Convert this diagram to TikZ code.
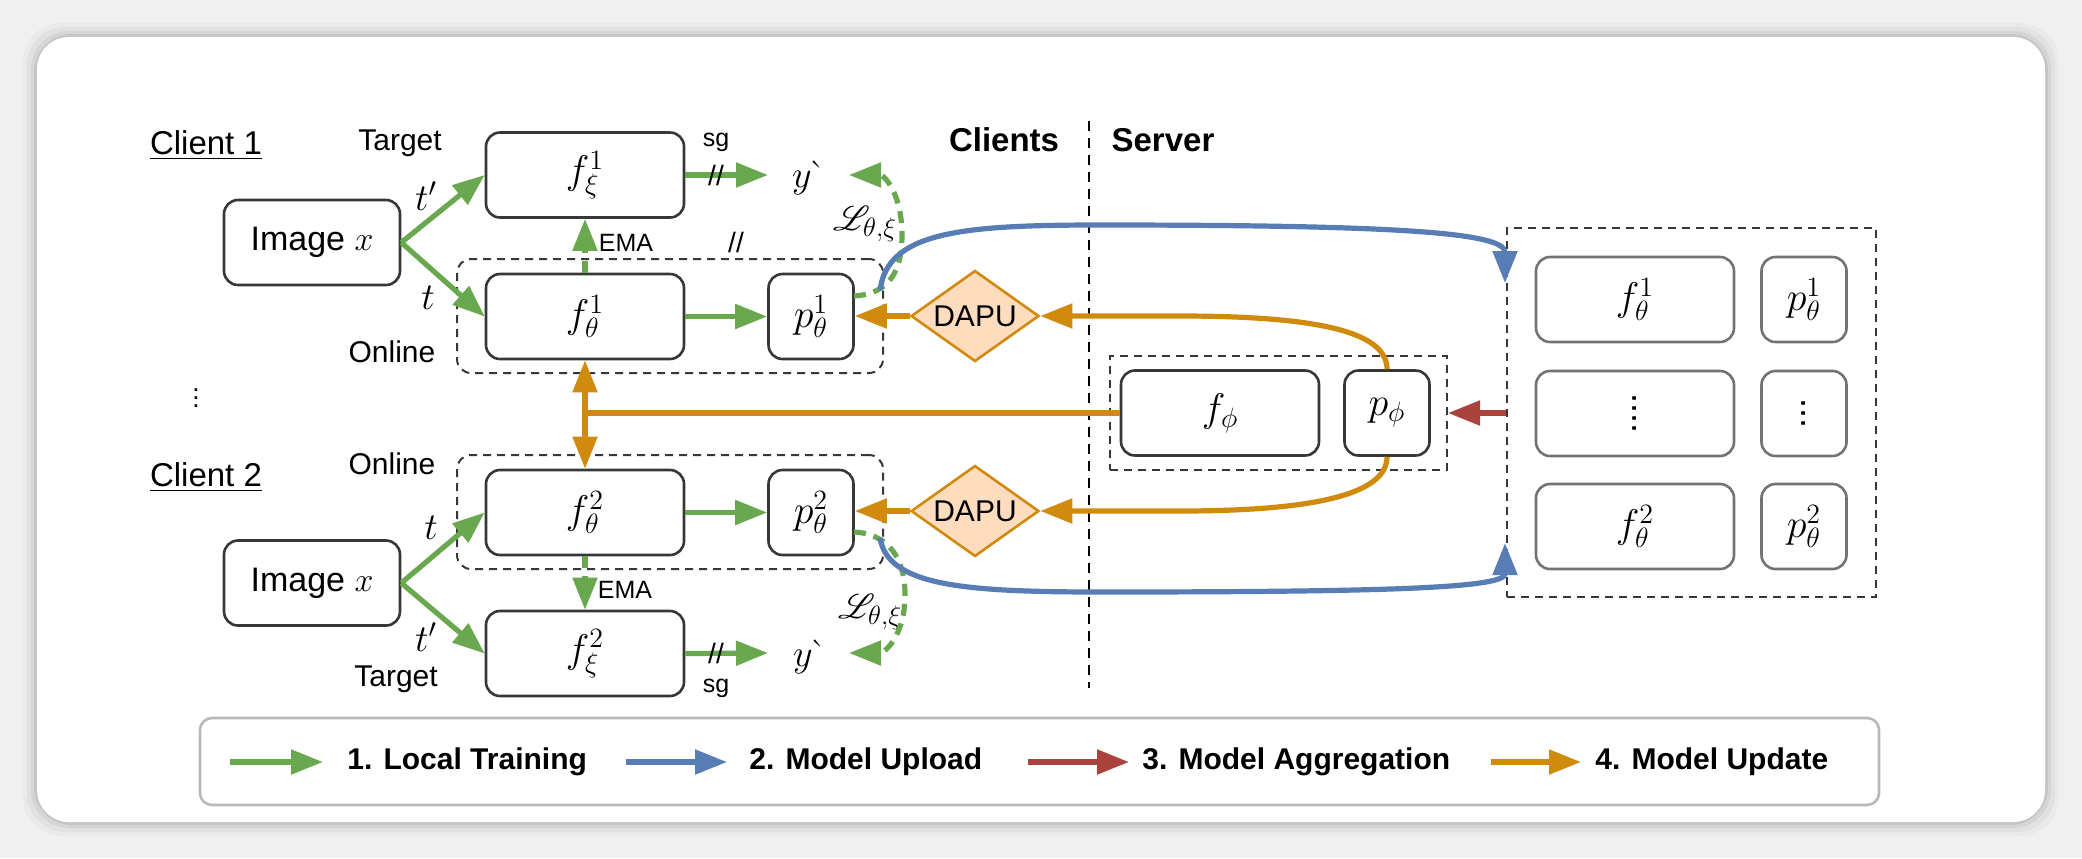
\RequirePackage{fix-cm}
\documentclass[tikz,border=0pt]{standalone}
\usepackage{fontspec}
\setmainfont{Liberation Sans}
\usepackage{mathrsfs}
\usetikzlibrary{arrows.meta,shapes.geometric,calc}

\definecolor{cgreen}{RGB}{106,168,79}
\definecolor{cblue}{RGB}{88,124,180}
\definecolor{cred}{RGB}{170,66,62}
\definecolor{corange}{RGB}{208,138,14}
\definecolor{cpeach}{RGB}{253,221,190}
\definecolor{cbord}{RGB}{55,55,55}
\definecolor{cgrayb}{RGB}{115,115,115}
\definecolor{cbg}{RGB}{240,240,240}

\begin{document}
\begin{tikzpicture}[x=0.5pt,y=-0.5pt,
  box/.style={draw=cbord, line width=1.3pt, rounded corners=7pt, fill=white, inner sep=0pt,
    minimum width=99pt, minimum height=42.5pt, font=\fontsize{20}{24}\selectfont},
  pbox/.style={box, minimum width=42.5pt},
  sbox/.style={box, draw=cgrayb},
  spbox/.style={pbox, draw=cgrayb},
  imgbox/.style={box, minimum width=88pt, font=\fontsize{17}{20}\selectfont},
  dbox/.style={draw=cbord, line width=1pt, dash pattern=on 4pt off 3pt, rounded corners=7pt, inner sep=0pt},
  sdbox/.style={draw=cbord, line width=1pt, dash pattern=on 4pt off 3pt, inner sep=0pt},
  arrtip/.style={-{Triangle[length=16pt,width=12pt]}},
  garr/.style={arrtip, draw=cgreen, line width=2.6pt},
  gdash/.style={garr, dash pattern=on 6pt off 4pt},
  barr/.style={arrtip, draw=cblue, line width=2.6pt},
  rarr/.style={arrtip, draw=cred, line width=2.6pt},
  oarr/.style={arrtip, draw=corange, line width=2.6pt},
  oline/.style={draw=corange, line width=2.6pt},
  lbl/.style={font=\fontsize{15}{18}\selectfont, inner sep=0pt},
  mlbl/.style={font=\fontsize{19}{22}\selectfont, inner sep=0pt},
  small/.style={font=\fontsize{12.5}{15}\selectfont, inner sep=0pt},
  dapu/.style={diamond, draw=corange, fill=cpeach, line width=1.3pt, shape aspect=1.4,
    minimum width=64pt, minimum height=45.5pt, inner sep=0pt, font=\fontsize{15}{18}\selectfont},
  legtext/.style={font=\bfseries\fontsize{15}{18}\selectfont, anchor=west, inner sep=0pt},
  dots/.style={font=\fontsize{18}{18}\selectfont}
]
\useasboundingbox (0,0) rectangle (2082,858);
\fill[cbg] (0,0) rectangle (2082,858);
\foreach \k/\op in {14/0.025,10/0.035,6/0.05,3/0.07}{
  \fill[black, opacity=\op, rounded corners=19pt] (37-\k,37-\k) rectangle (2045+\k,822+\k);
}
\fill[white, rounded corners=16pt] (37,37) rectangle (2045,822);

% ---------- Client 1 ----------
\node[lbl, font=\fontsize{16.5}{20}\selectfont] (c1) at (206,145) {\underline{Client 1}};
\node[lbl] (tg1) at (400,143) {Target};
\node[lbl] (on1) at (392,352) {Online};
\node[dbox, minimum width=213pt, minimum height=57pt] (db1) at (670,316) {};
\node[imgbox] (img1) at (312,242.5) {Image $x$};
\node[box] (fxi1) at (585,175) {$f_\xi^1$};
\node[box] (ft1) at (585,316.5) {$f_\theta^1$};
\node[pbox] (pt1) at (811,316.5) {$p_\theta^1$};
\node[mlbl] (tp1) at (426,196) {$t'$};
\node[mlbl] (tt1) at (428,298) {$t$};
\node[small] (sg1) at (716,142) {sg};
\node[small] (ema1) at (626,243) {EMA};
\node[lbl, font=\fontsize{14}{14}\selectfont] (sl2) at (736,242) {//};
\node[mlbl] (y1) at (805,178) {$y\,\grave{}$};
\node[mlbl] (L1) at (865,224) {$\mathscr{L}_{\theta,\xi}$};
\coordinate (y1in) at (768,175);
\coordinate (l1s) at (854,296);
\coordinate (l1e) at (849,175);
\coordinate (b1s) at (880,290);

% ---------- dots ----------
\node[mlbl, font=\fontsize{13}{15}\selectfont] (vd) at (196,392) {$\vdots$};

% ---------- Client 2 ----------
\node[lbl, font=\fontsize{16.5}{20}\selectfont] (c2) at (206,477) {\underline{Client 2}};
\node[lbl] (on2) at (392,464) {Online};
\node[lbl] (tg2) at (396,679) {Target};
\node[dbox, minimum width=213pt, minimum height=57pt] (db2) at (670,512) {};
\node[imgbox] (img2) at (312,583) {Image $x$};
\node[box] (ft2) at (585,512.5) {$f_\theta^2$};
\node[pbox] (pt2) at (811,512.5) {$p_\theta^2$};
\node[box] (fxi2) at (585,653.5) {$f_\xi^2$};
\node[mlbl] (tt2) at (431,528) {$t$};
\node[mlbl] (tp2) at (426,637) {$t'$};
\node[small] (sg2) at (716,688) {sg};
\node[small] (ema2) at (625,590) {EMA};
\node[mlbl] (y2) at (806,657) {$y\,\grave{}$};
\node[mlbl] (L2) at (870,612) {$\mathscr{L}_{\theta,\xi}$};
\coordinate (y2in) at (768,653);
\coordinate (l2s) at (854,532);
\coordinate (l2e) at (849,653);
\coordinate (b2s) at (880,538);

% ---------- DAPU ----------
\node[dapu] (dapu1) at (975,316) {DAPU};
\node[dapu] (dapu2) at (975,511) {DAPU};

% ---------- Clients / Server ----------
\node[lbl, font=\bfseries\fontsize{16.5}{20}\selectfont] (clients) at (1004,140) {Clients};
\node[lbl, font=\bfseries\fontsize{16.5}{20}\selectfont] (server) at (1163,140) {Server};
\draw[line width=1pt, dash pattern=on 5pt off 3.5pt] (1089,121) -- (1089,688);

\node[sdbox, minimum width=168.5pt, minimum height=57pt] (sall) at (1278.5,413) {};
\node[box] (fphi) at (1220,413) {$f_\phi$};
\node[pbox] (pphi) at (1387,413) {$p_\phi$};

\node[sdbox, minimum width=184.5pt, minimum height=184.5pt] (agg) at (1691.5,412.5) {};
\node[sbox] (sf1) at (1635,299.5) {$f_\theta^1$};
\node[spbox] (sp1) at (1804,299.5) {$p_\theta^1$};
\node[sbox] (sf2) at (1635,413.5) {};
\node[dots] at (sf2) {\rotatebox{90}{....}};
\node[spbox] (sp2) at (1804,413.5) {};
\node[dots] at (sp2) {\rotatebox{90}{...}};
\node[sbox] (sf3) at (1635,526.5) {$f_\theta^2$};
\node[spbox] (sp3) at (1804,526.5) {$p_\theta^2$};
\coordinate (b1e) at (1505,283);
\coordinate (b2e) at (1505,543);

% ---------- green connectors ----------
\draw[garr] (img1.east) -- (fxi1.west);
\draw[garr] (img1.east) -- (ft1.west);
\draw[garr] (ft1.east) -- (pt1.west);
\draw[garr] (fxi1.east) -- (y1in);
\draw[gdash] (ft1.north) -- (fxi1.south);
\draw[gdash] (l1s) .. controls (890,294) and (902,270) .. (902,235) .. controls (902,195) and (885,175) .. (l1e);
\node[lbl, font=\fontsize{14}{14}\selectfont] (sl1) at (716,175) {//};

\draw[garr] (img2.east) -- (ft2.west);
\draw[garr] (img2.east) -- (fxi2.west);
\draw[garr] (ft2.east) -- (pt2.west);
\draw[garr] (fxi2.east) -- (y2in);
\draw[gdash] (ft2.south) -- (fxi2.north);
\draw[gdash] (l2s) .. controls (890,534) and (905,560) .. (905,595) .. controls (905,635) and (885,653) .. (l2e);
\node[lbl, font=\fontsize{14}{14}\selectfont] (sl3) at (716,653) {//};

% ---------- blue ----------
\draw[barr] (b1s) .. controls (888,232) and (960,225) .. (1100,225) .. controls (1390,225) and (1505,232) .. (b1e);
\draw[barr] (b2s) .. controls (888,585) and (960,592) .. (1100,592) .. controls (1390,592) and (1505,588) .. (b2e);

% ---------- orange ----------
\draw[oarr] (pphi.north) .. controls (1387,335) and (1330,316) .. (1180,316) -- (dapu1.east);
\draw[oarr] (pphi.south) .. controls (1387,490) and (1330,511) .. (1180,511) -- (dapu2.east);
\draw[oarr] (dapu1.west) -- (pt1.east |- dapu1.west);
\draw[oarr] (dapu2.west) -- (pt2.east |- dapu2.west);
\draw[oline] (fphi.west) -- (fphi.west -| ft1.south);
\draw[oline, {Triangle[length=16pt,width=12pt]}-{Triangle[length=16pt,width=12pt]}] (ft1.south) -- (ft2.north);

% ---------- red ----------
\draw[rarr] (agg.west |- pphi) -- (sall.east |- pphi);

% ---------- legend ----------
\node[draw=gray!55, line width=1.3pt, rounded corners=6pt, minimum width=839.5pt, minimum height=43.5pt, inner sep=0pt] (legend) at (1039.5,761.5) {};
\coordinate (lg1a) at (230,762); \coordinate (lg1b) at (323,762);
\coordinate (lg2a) at (626,762); \coordinate (lg2b) at (727,762);
\coordinate (lg3a) at (1028,762); \coordinate (lg3b) at (1129,762);
\coordinate (lg4a) at (1491,762); \coordinate (lg4b) at (1581,762);
\draw[garr] (lg1a) -- (lg1b);
\draw[barr] (lg2a) -- (lg2b);
\draw[rarr] (lg3a) -- (lg3b);
\draw[oarr] (lg4a) -- (lg4b);
\node[legtext] (lt1) at (347,762) {1. Local Training};
\node[legtext] (lt2) at (749,762) {2. Model Upload};
\node[legtext] (lt3) at (1142,762) {3. Model Aggregation};
\node[legtext] (lt4) at (1595,762) {4. Model Update};
\end{tikzpicture}
\end{document}
